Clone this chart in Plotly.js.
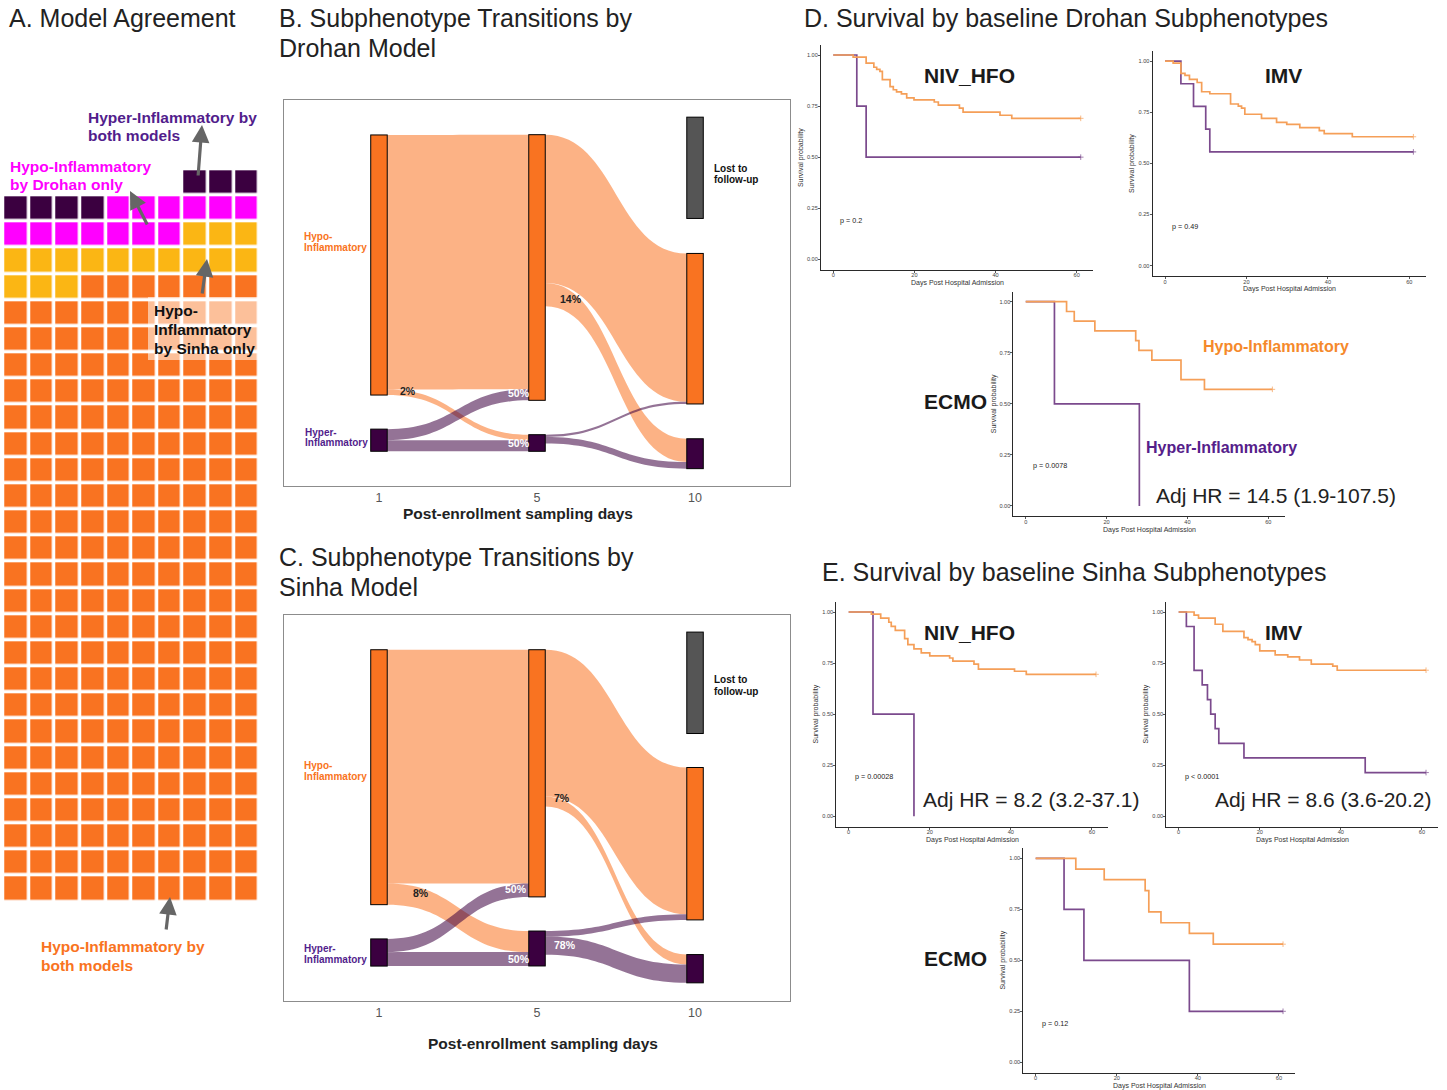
<!DOCTYPE html>
<html><head><meta charset="utf-8">
<script src="https://cdn.plot.ly/plotly-3.0.1.min.js"></script>
<style>html,body{margin:0;padding:0;background:#fff}</style>
</head><body><div id="chart" style="width:1447px;height:1090px"></div>
<script>
// ---------------- DATA ----------------
const waffleCategories = ['Hypo-Inflammatory by both models','Hypo-Inflammatory by Sinha only','Hypo-Inflammatory by Drohan only','Hyper-Inflammatory by both models'];
const waffleCounts = [237, 16, 13, 7];

const dayLabels = ['1', '5', '10'];
const sankeyNodeNames = ['Hypo-Inflammatory d1','Hyper-Inflammatory d1','Hypo-Inflammatory d5','Hyper-Inflammatory d5','Lost to follow-up d10','Hypo-Inflammatory d10','Hyper-Inflammatory d10','lost source'];
const sankeyNodeDay = [0, 0, 1, 1, 2, 2, 2, 1.7];
const sankeySources = [0, 0, 1, 1, 2, 2, 3, 3, 7];
const sankeyTargets = [2, 3, 2, 3, 5, 6, 5, 6, 4];
const drohanFlowValues = [46, 1, 2, 2, 26.8, 4.2, 0.4, 1.2, 18.3];
const sinhaFlowValues  = [42.2, 3.8, 2.4, 2.5, 26.5, 1.8, 1.0, 3.3, 18.3];
const drohanPctLabels = ['2%', '50%', '50%', '14%'];
const sinhaPctLabels  = ['8%', '50%', '50%', '7%', '78%'];

const survXTicks = [0, 20, 40, 60];
const survYTicks = [0, 0.25, 0.5, 0.75, 1];
const survYTickText = ['0.00', '0.25', '0.50', '0.75', '1.00'];

// D. Drohan
const dNivHypoT = [0,4.9,8.1,10,10.7,11.5,12.1,14,14.8,15.6,16.8,18.1,19.9,24.9,25.9,31.1,32,41.1,44,61];
const dNivHypoS = [1,0.99,0.96,0.94,0.93,0.92,0.88,0.845,0.83,0.82,0.81,0.79,0.78,0.77,0.755,0.74,0.72,0.705,0.69,0.69];
const dNivHyperT = [0,5.8,8.1,61];
const dNivHyperS = [1,0.75,0.5,0.5];
const dImvHypoT = [0,2,3.9,4.9,6,7.9,9,11,16.1,18,18.8,19.6,23.7,27.4,29.9,33.1,37.9,39.1,46,61];
const dImvHypoS = [1,0.99,0.94,0.93,0.91,0.895,0.85,0.84,0.79,0.78,0.77,0.74,0.72,0.70,0.69,0.675,0.66,0.645,0.63,0.63];
const dImvHyperT = [0,3.9,7,10,11,61];
const dImvHyperS = [1,0.889,0.778,0.667,0.556,0.556];
const dEcmoHypoT = [0,10.1,12,17.1,27.2,28,31.2,38.4,44.2,61];
const dEcmoHypoS = [1,0.952,0.905,0.857,0.81,0.762,0.714,0.619,0.571,0.571];
const dEcmoHyperT = [0,7.1,28.1];
const dEcmoHyperS = [1,0.5,0];
// E. Sinha
const eNivHypoT = [0,5.6,7.9,9.9,10.5,11.5,13.8,14.6,16.1,17.9,20,24.9,25.7,30.9,32,40.9,43.8,61];
const eNivHypoS = [1,0.99,0.97,0.95,0.93,0.91,0.87,0.84,0.82,0.80,0.785,0.775,0.76,0.745,0.72,0.71,0.695,0.695];
const eNivHyperT = [0,6,16.1];
const eNivHyperS = [1,0.5,0];
const eImvHypoT = [0,3.8,4.9,9,10.9,16.1,17.1,18.1,18.9,20,23.8,26.9,29.8,32.7,38,39.1,61];
const eImvHypoS = [1,0.985,0.97,0.94,0.905,0.875,0.865,0.855,0.84,0.81,0.79,0.78,0.765,0.745,0.735,0.715,0.715];
const eImvHyperT = [0,1.9,3.8,5.8,7.1,7.9,9,9.9,16.1,46,61];
const eImvHyperS = [1,0.929,0.714,0.643,0.571,0.5,0.429,0.357,0.286,0.214,0.214];
const eEcmoHypoT = [0,9.9,16.9,27,27.9,30.9,37.9,43.8,61];
const eEcmoHypoS = [1,0.947,0.895,0.842,0.737,0.684,0.632,0.579,0.579];
const eEcmoHyperT = [0,7,11.9,37.9,61];
const eEcmoHyperS = [1,0.75,0.5,0.25,0.25];

// ---------------- STYLE / LAYOUT ----------------
const W = 1447, H = 1090;
const FONT = 'Liberation Sans, Arial, sans-serif';
const C_ORANGE = '#F97321', C_YELLOW = '#FBB614', C_MAGENTA = '#FF00FF', C_DPURPLE = '#3B0040';
const C_GRAY = '#555555';
const C_LINK_O = 'rgba(249,115,33,0.55)', C_LINK_P = 'rgba(61,0,64,0.55)';
const C_SURV_O = '#F59F58', C_SURV_P = '#7B4A8D';
const C_LABEL_P = '#521D8C';

const traces = [];
const ann = [];
const shapes = [];
const layout = {
  width: W, height: H, margin: {l:0, r:0, t:0, b:0},
  paper_bgcolor: '#fff', plot_bgcolor: 'rgba(0,0,0,0)',
  showlegend: false, font: {family: FONT, color: '#222'},
  annotations: ann, shapes: shapes
};

function txt(text, x, y, o) {
  o = o || {};
  ann.push({text: text, x: x / W, y: 1 - y / H, xref: 'paper', yref: 'paper', showarrow: false,
    xanchor: o.xanchor || 'left', yanchor: 'middle', textangle: o.angle || 0,
    font: {family: FONT, size: o.size || 12, color: o.color || '#222'}});
}
function lines(arr, x, y0, dy, o) { arr.forEach((t, i) => txt(t, x, y0 + i * dy, o)); }
function arrow(hx, hy, tx, ty) {
  ann.push({text: '', x: hx / W, y: 1 - hy / H, xref: 'paper', yref: 'paper', showarrow: true,
    ax: tx - hx, ay: ty - hy, arrowhead: 2, arrowsize: 1.1, arrowwidth: 3.2, arrowcolor: '#666'});
}

// ---------------- Panel titles ----------------
txt('A. Model Agreement', 7, 18, {size: 25});
lines(['B. Subphenotype Transitions by', 'Drohan Model'], 277, 18, 30, {size: 25});
lines(['C. Subphenotype Transitions by', 'Sinha Model'], 277, 557, 30, {size: 25});
txt('D. Survival by baseline Drohan Subphenotypes', 802, 18, {size: 25});
txt('E. Survival by baseline Sinha Subphenotypes', 820, 572, {size: 25});

// ---------------- A. Waffle ----------------
const nCols = 10;
const total = waffleCounts.reduce((a, b) => a + b, 0);
const nRows = Math.ceil(total / nCols);
const z = Array.from({length: nRows}, () => Array(nCols).fill(null));
let k = 0;
waffleCounts.forEach((c, ci) => {
  for (let j = 0; j < c; j++) {
    const rb = Math.floor(k / nCols), col = nCols - 1 - (k % nCols);
    z[nRows - 1 - rb][col] = ci; k++;
  }
});
const wafColors = [C_ORANGE, C_YELLOW, C_MAGENTA, C_DPURPLE];
traces.push({type: 'heatmap', z: z, zmin: 0, zmax: 3, showscale: false, xgap: 3.5, ygap: 3.5,
  colorscale: [[0, wafColors[0]], [0.1667, wafColors[0]], [0.1667, wafColors[1]], [0.5, wafColors[1]],
               [0.5, wafColors[2]], [0.8333, wafColors[2]], [0.8333, wafColors[3]], [1, wafColors[3]]],
  text: z.map(r => r.map(v => v === null ? '' : waffleCategories[v])), hoverinfo: 'text',
  xaxis: 'x', yaxis: 'y'});
layout.xaxis = {domain: [3.25 / W, 259.5 / W], range: [-0.5, nCols - 0.5], visible: false, fixedrange: true};
layout.yaxis = {domain: [1 - 901.8 / H, 1 - 169.3 / H], range: [nRows - 0.5, -0.5], visible: false, fixedrange: true};
shapes.push({type: 'rect', xref: 'paper', yref: 'paper', x0: 148 / W, x1: 259 / W, y0: 1 - 360 / H, y1: 1 - 297 / H,
  fillcolor: 'rgba(255,255,255,0.55)', line: {width: 0}, layer: 'above'});
lines(['<b>Hyper-Inflammatory by</b>', '<b>both models</b>'], 86, 117.5, 18, {size: 15.5, color: C_LABEL_P});
lines(['<b>Hypo-Inflammatory</b>', '<b>by Drohan only</b>'], 8, 166.5, 18.5, {size: 15.5, color: C_MAGENTA});
lines(['<b>Hypo-</b>', '<b>Inflammatory</b>', '<b>by Sinha only</b>'], 152, 310, 19, {size: 15.5, color: '#111'});
lines(['<b>Hypo-Inflammatory by</b>', '<b>both models</b>'], 39, 946.5, 18.5, {size: 15.5, color: C_ORANGE});
arrow(202, 125, 198, 177);
arrow(130, 191, 148, 226);
arrow(207, 259, 202, 295);
arrow(170, 897, 166, 931);

// ---------------- B & C Sankeys ----------------
const boxRange = [-0.601, 2.601];
const boxX = [284, 790];
function sankeyPanel(values, nodeYpx, domTop, domBot, boxTop, boxBot, axN) {
  const hD = domBot - domTop;
  const xFrac = d => (d - boxRange[0]) / (boxRange[1] - boxRange[0]);
  const nodeColors = [C_ORANGE, C_DPURPLE, C_ORANGE, C_DPURPLE, C_GRAY, C_ORANGE, C_DPURPLE, 'rgba(255,255,255,0)'];
  const lineCols = nodeColors.map((c, i) => i === 7 ? 'rgba(255,255,255,0)' : '#111');
  const lineW = nodeColors.map((c, i) => i === 7 ? 0 : 1.3);
  const linkCols = sankeySources.map(s => s === 7 ? 'rgba(255,255,255,0)' : (s === 0 || s === 2 ? C_LINK_O : C_LINK_P));
  // the helper "lost source" node is parked far below the canvas (invisible)
  const yFr = nodeYpx.map((v, i) => i === 7 ? 12 : (v - domTop) / hD);
  traces.push({type: 'sankey', arrangement: 'fixed', orientation: 'h',
    domain: {x: [boxX[0] / W, boxX[1] / W], y: [1 - domBot / H, 1 - domTop / H]},
    node: {label: sankeyNodeNames.map(() => ''), customdata: sankeyNodeNames, pad: 0, thickness: 16.5,
      x: sankeyNodeDay.map(xFrac), y: yFr,
      color: nodeColors, line: {color: lineCols, width: lineW}, hoverinfo: 'none'},
    link: {source: sankeySources, target: sankeyTargets, value: values, color: linkCols,
      line: {width: 0}, hoverinfo: 'none'}
  });
  traces.push({type: 'scatter', x: [], y: [], xaxis: 'x' + axN, yaxis: 'y' + axN, hoverinfo: 'skip'});
  layout['xaxis' + axN] = {domain: [boxX[0] / W, boxX[1] / W], range: boxRange, anchor: 'y' + axN,
    tickvals: [0, 1, 2], ticktext: dayLabels, ticks: '', tickfont: {size: 12.5, color: '#555'},
    showline: true, mirror: true, linecolor: '#8c8c8c', linewidth: 1.3, showgrid: false, zeroline: false, fixedrange: true};
  layout['yaxis' + axN] = {domain: [1 - boxBot / H, 1 - boxTop / H], range: [0, 1], anchor: 'x' + axN,
    showticklabels: false, ticks: '', showline: true, mirror: true, linecolor: '#8c8c8c', linewidth: 1.3,
    showgrid: false, zeroline: false, fixedrange: true};
}
// node centres (px): D1Hypo, D1Hyper, D5Hypo, D5Hyper, Lost, D10Hypo, D10Hyper, lostSrc
sankeyPanel(drohanFlowValues, [265, 440.2, 267.5, 443, 167.8, 328.7, 453.7, 0], 100, 483.5, 100, 485.7, 2);
sankeyPanel(sinhaFlowValues,  [777.2, 952.5, 773.3, 948.5, 682.8, 843.7, 968.7, 0], 615, 998.5, 615, 1000.7, 3);

const sankBold = {size: 10, color: '#111'};
// B labels
lines(['<b>Hypo-</b>', '<b>Inflammatory</b>'], 302, 236, 11, {size: 10, color: C_ORANGE});
lines(['<b>Hyper-</b>', '<b>Inflammatory</b>'], 303, 432, 11, {size: 10, color: C_LABEL_P});
lines(['<b>Lost to</b>', '<b>follow-up</b>'], 712, 168, 11.5, sankBold);
txt('<b>' + drohanPctLabels[0] + '</b>', 407.5, 390.5, {size: 10.5, xanchor: 'center', color: '#222'});
txt('<b>' + drohanPctLabels[1] + '</b>', 518.5, 393, {size: 10.5, xanchor: 'center', color: '#fff'});
txt('<b>' + drohanPctLabels[2] + '</b>', 518.5, 443, {size: 10.5, xanchor: 'center', color: '#fff'});
txt('<b>' + drohanPctLabels[3] + '</b>', 570.5, 299, {size: 10.5, xanchor: 'center', color: '#222'});
txt('<b>Post-enrollment sampling days</b>', 518, 513.5, {size: 15.5, xanchor: 'center', color: '#222'});
// C labels
lines(['<b>Hypo-</b>', '<b>Inflammatory</b>'], 302, 765, 11, {size: 10, color: C_ORANGE});
lines(['<b>Hyper-</b>', '<b>Inflammatory</b>'], 302, 948, 11, {size: 10, color: C_LABEL_P});
lines(['<b>Lost to</b>', '<b>follow-up</b>'], 712, 679.5, 11.5, sankBold);
txt('<b>' + sinhaPctLabels[0] + '</b>', 420.5, 893, {size: 10.5, xanchor: 'center', color: '#222'});
txt('<b>' + sinhaPctLabels[1] + '</b>', 515.5, 889, {size: 10.5, xanchor: 'center', color: '#fff'});
txt('<b>' + sinhaPctLabels[2] + '</b>', 518.5, 959, {size: 10.5, xanchor: 'center', color: '#fff'});
txt('<b>' + sinhaPctLabels[3] + '</b>', 561.5, 798, {size: 10.5, xanchor: 'center', color: '#222'});
txt('<b>' + sinhaPctLabels[4] + '</b>', 564.5, 945, {size: 10.5, xanchor: 'center', color: '#fff'});
txt('<b>Post-enrollment sampling days</b>', 543, 1043.5, {size: 15.5, xanchor: 'center', color: '#222'});

// ---------------- D & E survival ----------------
const survPanels = [
  {box: [820.9, 1093.1, 44.8, 269.5], hypo: [dNivHypoT, dNivHypoS], hyper: [dNivHyperT, dNivHyperS],
   name: 'NIV_HFO', namePos: [969, 75.5], p: 'p = 0.2', pPos: [838, 220]},
  {box: [1152.6, 1425.8, 50.8, 275.9], hypo: [dImvHypoT, dImvHypoS], hyper: [dImvHyperT, dImvHyperS],
   name: 'IMV', namePos: [1283, 75], p: 'p = 0.49', pPos: [1170, 226.5]},
  {box: [1013.4, 1284.7, 291.5, 516.2], hypo: [dEcmoHypoT, dEcmoHypoS], hyper: [dEcmoHyperT, dEcmoHyperS],
   name: 'ECMO', namePos: [955, 401], p: 'p = 0.0078', pPos: [1031, 465.5], hr: ['Adj HR = 14.5 (1.9-107.5)', 1276, 495]},
  {box: [836.3, 1108.4, 601.8, 826.5], hypo: [eNivHypoT, eNivHypoS], hyper: [eNivHyperT, eNivHyperS],
   name: 'NIV_HFO', namePos: [969, 632], p: 'p = 0.00028', pPos: [853, 776], hr: ['Adj HR = 8.2 (3.2-37.1)', 1031, 799]},
  {box: [1166.3, 1438.4, 601.8, 826.5], hypo: [eImvHypoT, eImvHypoS], hyper: [eImvHyperT, eImvHyperS],
   name: 'IMV', namePos: [1283, 632], p: 'p < 0.0001', pPos: [1183, 776], hr: ['Adj HR = 8.6 (3.6-20.2)', 1323, 799]},
  {box: [1023.3, 1295.4, 848.1, 1072.5], hypo: [eEcmoHypoT, eEcmoHypoS], hyper: [eEcmoHyperT, eEcmoHyperS],
   name: 'ECMO', namePos: [955, 958], p: 'p = 0.12', pPos: [1040, 1023]}
];
survPanels.forEach((sp, i) => {
  const n = i + 4;
  const b = sp.box;
  [[sp.hyper, C_SURV_P], [sp.hypo, C_SURV_O]].forEach(([d, col]) => {
    const T = d[0], S = d[1];
    traces.push({type: 'scatter', mode: 'lines+markers', x: T, y: S, xaxis: 'x' + n, yaxis: 'y' + n,
      line: {shape: 'hv', color: col, width: 1.7},
      marker: {symbol: 'cross-thin', size: T.map((t, j) => (j === T.length - 1 && S[j] > 0) ? 4 : 0), color: col, line: {color: col, width: 1}},
      hoverinfo: 'x+y'});
  });
  const axCommon = {showline: true, linecolor: '#2a2a2a', linewidth: 1, ticks: 'outside', ticklen: 2, tickwidth: 0.8,
    tickcolor: '#2a2a2a', tickfont: {size: 5.6, color: '#444', family: FONT}, showgrid: false, zeroline: false, fixedrange: true};
  layout['xaxis' + n] = Object.assign({domain: [b[0] / W, b[1] / W], range: [-3.05, 64.05], anchor: 'y' + n,
    tickvals: survXTicks, ticklabelstandoff: -2}, axCommon);
  layout['yaxis' + n] = Object.assign({domain: [1 - b[3] / H, 1 - b[2] / H], range: [-0.05, 1.05], anchor: 'x' + n,
    tickvals: survYTicks, ticktext: survYTickText, ticklabelstandoff: -1}, axCommon);
  txt('Days Post Hospital Admission', (b[0] + b[1]) / 2, b[3] + 13.5, {size: 7, xanchor: 'center', color: '#333'});
  txt('Survival probability', b[0] - 20, (b[2] + b[3]) / 2, {size: 7, xanchor: 'center', angle: -90, color: '#333'});
  txt(sp.p, sp.pPos[0], sp.pPos[1], {size: 7.2, color: '#222'});
  txt('<b>' + sp.name + '</b>', sp.namePos[0], sp.namePos[1], {size: 21, xanchor: 'center', color: '#1a1a1a'});
  if (sp.hr) txt(sp.hr[0], sp.hr[1], sp.hr[2], {size: 21, xanchor: 'center', color: '#222'});
});
txt('<b>Hypo-Inflammatory</b>', 1276, 347, {size: 16, xanchor: 'center', color: '#F5892B'});
txt('<b>Hyper-Inflammatory</b>', 1221, 447, {size: 16, xanchor: 'center', color: '#55208A'});

Plotly.newPlot('chart', traces, layout, {staticPlot: true, displayModeBar: false});
</script>
</body></html>
